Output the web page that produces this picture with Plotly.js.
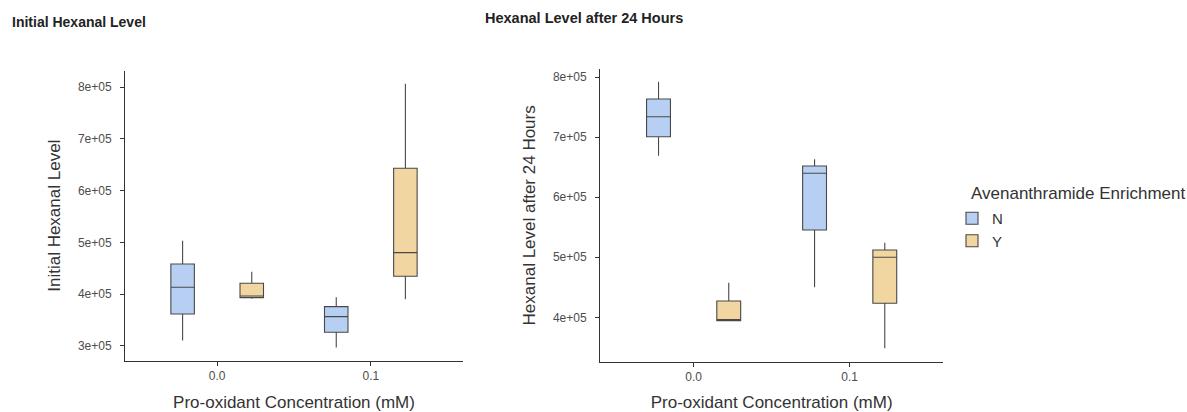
<!DOCTYPE html>
<html>
<head>
<meta charset="utf-8">
<script src="https://cdn.plot.ly/plotly-3.0.1.min.js"></script>
<style>html,body{margin:0;padding:0;background:#fff;}#chart{width:1187px;height:412px;}</style>
</head>
<body>
<div id="chart"></div>
<script>
// Categories
const concentrations = ["0.0", "0.1"];
const groups = ["N", "Y"];

// Initial hexanal level: [lowerfence, q1, median, q3, upperfence] per concentration
const initN_low = [309900, 296300];
const initN_q1  = [361500, 326100];
const initN_med = [413200, 356300];
const initN_q3  = [458200, 375600];
const initN_up  = [503300, 393800];

const initY_low = [391000, 389900];
const initY_q1  = [393000, 434400];
const initY_med = [396300, 480100];
const initY_q3  = [420900, 643300];
const initY_up  = [443300, 807000];

// Hexanal level after 24 hours
const h24N_low = [669300, 450000];
const h24N_q1  = [701000, 545500];
const h24N_med = [734300, 640000];
const h24N_q3  = [763800, 652200];
const h24N_up  = [792700, 663300];

const h24Y_low = [394500, 348300];
const h24Y_q1  = [394500, 423300];
const h24Y_med = [395500, 500000];
const h24Y_q3  = [427200, 512200];
const h24Y_up  = [457700, 524300];

// Tick labels
const leftTickVals = [300000, 400000, 500000, 600000, 700000, 800000];
const leftTickText = ["3e+05", "4e+05", "5e+05", "6e+05", "7e+05", "8e+05"];
const rightTickVals = [400000, 500000, 600000, 700000, 800000];
const rightTickText = ["4e+05", "5e+05", "6e+05", "7e+05", "8e+05"];

const colN = "#b8cff4";
const colY = "#f2d6a1";
const lineCol = "#484848";

function boxTrace(name, fill, low, q1, med, q3, up, xa, ya, showlegend) {
  return {
    type: "box", name: name, x: concentrations, offsetgroup: name,
    lowerfence: low, q1: q1, median: med, q3: q3, upperfence: up,
    fillcolor: fill, line: {color: lineCol, width: 1.1},
    whiskerwidth: 0, xaxis: xa, yaxis: ya, legendgroup: name,
    showlegend: showlegend, hoverinfo: "skip", boxpoints: false
  };
}

const data = [
  boxTrace(groups[0], colN, initN_low, initN_q1, initN_med, initN_q3, initN_up, "x", "y", true),
  boxTrace(groups[1], colY, initY_low, initY_q1, initY_med, initY_q3, initY_up, "x", "y", true),
  boxTrace(groups[0], colN, h24N_low, h24N_q1, h24N_med, h24N_q3, h24N_up, "x2", "y2", false),
  boxTrace(groups[1], colY, h24Y_low, h24Y_q1, h24Y_med, h24Y_q3, h24Y_up, "x2", "y2", false)
];

const W = 1187, H = 412;
const fontFam = "Liberation Sans, Arial, Helvetica, sans-serif";
const axisCommon = {
  showline: true, linecolor: "#333", linewidth: 1,
  ticks: "outside", ticklen: 4, tickcolor: "#333", tickwidth: 1,
  showgrid: false, zeroline: false,
  tickfont: {size: 12, color: "#4d4d4d", family: fontFam}
};
const titleFont = {size: 17, color: "#333", family: fontFam};

const layout = {
  width: W, height: H,
  margin: {l: 0, r: 0, t: 0, b: 0},
  paper_bgcolor: "#fff", plot_bgcolor: "#fff",
  font: {family: fontFam, color: "#333"},
  boxmode: "group", boxgap: 0.1, boxgroupgap: 0.66,
  xaxis: Object.assign({}, axisCommon, {
    domain: [125 / W, 463 / W], anchor: "y", type: "category",
    range: [-0.6, 1.6],
    title: {text: "Pro-oxidant Concentration (mM)", font: titleFont, standoff: 14}
  }),
  yaxis: Object.assign({}, axisCommon, {
    domain: [1 - 360.7 / H, 1 - 70.7 / H], anchor: "x",
    range: [271000, 832100], tickvals: leftTickVals, ticktext: leftTickText,
    ticklabelstandoff: 6,
    title: {text: "Initial Hexanal Level", font: titleFont, standoff: 12}
  }),
  xaxis2: Object.assign({}, axisCommon, {
    domain: [600 / W, 943.3 / W], anchor: "y2", type: "category",
    range: [-0.6, 1.6],
    title: {text: "Pro-oxidant Concentration (mM)", font: titleFont, standoff: 14}
  }),
  yaxis2: Object.assign({}, axisCommon, {
    domain: [1 - 362 / H, 1 - 68.7 / H], anchor: "x2",
    range: [325500, 814300], tickvals: rightTickVals, ticktext: rightTickText,
    ticklabelstandoff: 6,
    title: {text: "Hexanal Level after 24 Hours", font: titleFont, standoff: 12}
  }),
  showlegend: true,
  legend: {
    x: 952 / W, xanchor: "left", y: 1 - 202 / H, yanchor: "top",
    font: {size: 15, color: "#333", family: fontFam}, tracegroupgap: 0, itemwidth: 30,
    bgcolor: "rgba(0,0,0,0)"
  },
  annotations: [
    {text: "<b>Initial Hexanal Level</b>", xref: "paper", yref: "paper",
     x: 10 / W, y: 1 - 22 / H, xanchor: "left", yanchor: "middle", showarrow: false,
     font: {size: 14, color: "#222", family: fontFam}},
    {text: "<b>Hexanal Level after 24 Hours</b>", xref: "paper", yref: "paper",
     x: 483 / W, y: 1 - 18 / H, xanchor: "left", yanchor: "middle", showarrow: false,
     font: {size: 14.5, color: "#222", family: fontFam}},
    {text: "Avenanthramide Enrichment", xref: "paper", yref: "paper",
     x: 969 / W, y: 1 - 193 / H, xanchor: "left", yanchor: "middle", showarrow: false,
     font: titleFont}
  ]
};

Plotly.newPlot("chart", data, layout, {displayModeBar: false, staticPlot: true});
</script>
</body>
</html>
